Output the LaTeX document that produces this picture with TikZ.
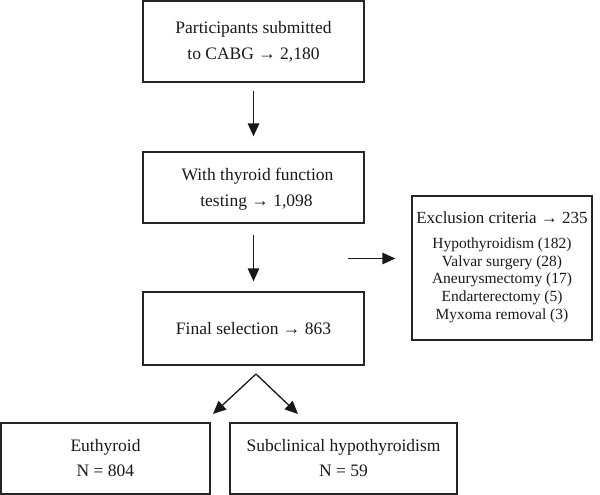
\documentclass[tikz,border=0pt]{standalone}
\usepackage{fontspec}
\setmainfont{Liberation Serif}
\usetikzlibrary{arrows.meta,calc}
\begin{document}
\begin{tikzpicture}[x=1pt,y=-1pt,
  box/.style={draw=black!85, line width=1.3pt, inner sep=0pt, align=center,
    font=\fontsize{17.5}{26}\selectfont, text=black!90},
  arr/.style={draw=black!90, line width=1.3pt, -{Triangle[length=13pt,width=11.5pt]}}]
\useasboundingbox (0,0) rectangle (600,495);
\node[box, minimum width=221pt, minimum height=81pt] (b1) at (253.5,41.5)
  {Participants submitted\\to CABG → 2,180};
\node[box, minimum width=221pt, minimum height=71pt] (b2) at (253.5,187.5)
  {\raisebox{-3pt}{\strut}\hspace{8pt}With thyroid function\\\hspace{6pt}testing → 1,098};
\node[box, minimum width=221pt, minimum height=73pt] (b3) at (253.5,328.5)
  {Final selection → 863};
\node[box, minimum width=180pt, minimum height=144pt] (exc) at (502,268)
  {\fontsize{15.5}{17.75}\selectfont
   \begin{tabular}{@{}c@{}}
   \fontsize{17}{20}\selectfont Exclusion criteria → 235\\[7pt]
   Hypothyroidism (182)\\
   Valvar surgery (28)\\
   Aneurysmectomy (17)\\
   Endarterectomy (5)\\
   Myxoma removal (3)
   \end{tabular}};
\node[box, minimum width=209pt, minimum height=71pt, font=\fontsize{17.5}{25}\selectfont] (eu) at (105.5,458.5)
  {Euthyroid\\N = 804};
\node[box, minimum width=227pt, minimum height=71pt, font=\fontsize{17.5}{25}\selectfont] (sub) at (343.5,458.5)
  {Subclinical hypothyroidism\\N = 59};
\coordinate (split) at (348,258.5);
\coordinate (fork) at (256,374);
\coordinate (tipL) at (213,414);
\coordinate (tipR) at (298,414);
\draw[arr, shorten <=8pt, shorten >=15pt] (b1.south) -- (b2.north);
\draw[arr, shorten <=11pt, shorten >=10pt] (b2.south) -- (b3.north);
\draw[arr] (split) -- ([xshift=-16pt]split -| exc.west);
\draw[arr] (fork) -- (tipL);
\draw[arr] (fork) -- (tipR);
\end{tikzpicture}
\end{document}
